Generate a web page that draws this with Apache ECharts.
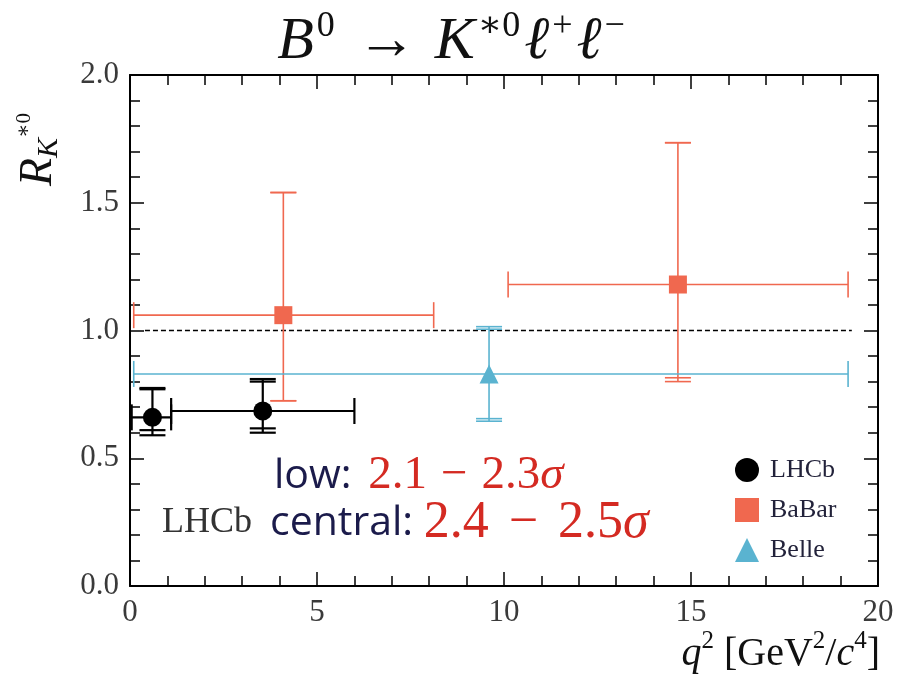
<!DOCTYPE html>
<html>
<head>
<meta charset="utf-8">
<script src="https://cdn.jsdelivr.net/npm/echarts@6/dist/echarts.min.js"></script>
<style>html,body{margin:0;padding:0;background:#fff}#c{width:906px;height:686px}</style>
</head>
<body>
<div id="c"></div>
<script>
// ---- data: [x, y, xLow, xHigh, yLowTot, yHighTot, yLowStat, yHighStat]
const lhcbPoints = [
  [0.6, 0.66, 0.045, 1.1, 0.59, 0.775, 0.61, 0.77],
  [3.55, 0.685, 1.1, 6.0, 0.60, 0.81, 0.617, 0.80]
];
const babarPoints = [
  [4.1, 1.06, 0.1, 8.12, 0.725, 1.54, 0.725, 1.54],
  [14.65, 1.18, 10.11, 19.2, 0.80, 1.735, 0.815, 1.735]
];
const bellePoints = [
  [9.6, 0.83, 0.1, 19.2, 0.645, 1.015, 0.655, 1.005]
];
const refLine = [[0.4, 1.0], [19.3, 1.0]];
const xRange = [0, 20];
const yRange = [0, 2];
const seriesNames = ['LHCb', 'BaBar', 'Belle'];

const colLHCb = '#000000', colBaBar = '#f0684f', colBelle = '#5ab3d0';
const SERIF = '"Liberation Serif", "DejaVu Serif", serif';
const SANS = '"Open Sans", "DejaVu Sans", sans-serif';

function errBar(color, lw) {
  return function (params, api) {
    const x = api.value(0), y = api.value(1);
    const c = api.coord([x, y]);
    const xl = api.coord([api.value(2), y]);
    const xh = api.coord([api.value(3), y]);
    const yl = api.coord([x, api.value(4)]);
    const yh = api.coord([x, api.value(5)]);
    const yl2 = api.coord([x, api.value(6)]);
    const yh2 = api.coord([x, api.value(7)]);
    const st = { stroke: color, lineWidth: lw };
    const capH = 13, capW = 13;
    const ln = (x1, y1, x2, y2) => ({ type: 'line', shape: { x1, y1, x2, y2 }, style: st });
    return {
      type: 'group',
      children: [
        ln(xl[0], c[1], xh[0], c[1]),
        ln(xl[0], c[1] - capH, xl[0], c[1] + capH),
        ln(xh[0], c[1] - capH, xh[0], c[1] + capH),
        ln(c[0], yl[1], c[0], yh[1]),
        ln(c[0] - capW, yl[1], c[0] + capW, yl[1]),
        ln(c[0] - capW, yh[1], c[0] + capW, yh[1]),
        ln(c[0] - capW, yl2[1], c[0] + capW, yl2[1]),
        ln(c[0] - capW, yh2[1], c[0] + capW, yh2[1])
      ]
    };
  };
}

function axisCommon() {
  return {
    type: 'value',
    axisLine: { show: true, onZero: false, lineStyle: { color: '#000', width: 2 } },
    splitLine: { show: false },
    axisTick: { show: true, inside: true, length: 14, lineStyle: { color: '#000', width: 1.5 } },
    minorTick: { show: true, splitNumber: 5, length: 10, lineStyle: { color: '#000', width: 1.5 } }
  };
}

const chart = echarts.init(document.getElementById('c'));
chart.setOption({
  animation: false,
  backgroundColor: '#fff',
  grid: { left: 130, right: 28, top: 75, bottom: 100 },
  xAxis: [
    Object.assign(axisCommon(), {
      min: xRange[0], max: xRange[1], interval: 5, position: 'bottom',
      axisLabel: { fontFamily: SERIF, fontSize: 31, color: '#3a3a3a', margin: 11 }
    }),
    Object.assign(axisCommon(), {
      min: xRange[0], max: xRange[1], interval: 5, position: 'top',
      axisLabel: { show: false }
    })
  ],
  yAxis: [
    Object.assign(axisCommon(), {
      min: yRange[0], max: yRange[1], interval: 0.5, position: 'left',
      axisLabel: { fontFamily: SERIF, fontSize: 31, color: '#3a3a3a', margin: 11,
        formatter: v => v.toFixed(1) }
    }),
    Object.assign(axisCommon(), {
      min: yRange[0], max: yRange[1], interval: 0.5, position: 'right',
      axisLabel: { show: false }
    })
  ],
  legend: {
    orient: 'vertical',
    left: 730, top: 452,
    itemWidth: 24, itemHeight: 24, itemGap: 14,
    data: [
      { name: 'LHCb', icon: 'circle' },
      { name: 'BaBar', icon: 'rect' },
      { name: 'Belle', icon: 'triangle' }
    ],
    textStyle: { fontFamily: SERIF, fontSize: 26, color: '#22223a', padding: [0, 0, 0, 6] }
  },
  series: [
    { type: 'line', data: refLine, symbol: 'none', silent: true,
      lineStyle: { color: '#000', width: 1.5, type: [5, 3] }, z: 1 },
    { type: 'custom', renderItem: errBar(colBaBar, 1.6), data: babarPoints, z: 2, silent: true },
    { type: 'custom', renderItem: errBar(colBelle, 1.6), data: bellePoints, z: 2, silent: true },
    { type: 'custom', renderItem: errBar(colLHCb, 2.2), data: lhcbPoints, z: 3, silent: true },
    { name: 'BaBar', type: 'scatter', data: babarPoints.map(p => [p[0], p[1]]),
      symbol: 'rect', symbolSize: 18, itemStyle: { color: colBaBar, opacity: 1 }, z: 5 },
    { name: 'Belle', type: 'scatter', data: bellePoints.map(p => [p[0], p[1]]),
      symbol: 'triangle', symbolSize: 19, itemStyle: { color: colBelle, opacity: 1 }, z: 5 },
    { name: 'LHCb', type: 'scatter', data: lhcbPoints.map(p => [p[0], p[1]]),
      symbol: 'circle', symbolSize: 19, itemStyle: { color: colLHCb, opacity: 1 }, z: 6 }
  ],
  graphic: [
    { type: 'text', left: 'center', top: 9,
      style: {
        text: '{i|B}{s|0}{n|→}{i|K}{s|∗0}{i|ℓ}{s|+}{i|ℓ}{s|−}',
        rich: {
          i: { fontFamily: SERIF, fontStyle: 'italic', fontSize: 60, lineHeight: 66, fill: '#111' },
          n: { fontFamily: SERIF, fontSize: 60, lineHeight: 66, fill: '#111', padding: [0, 18, 0, 18] },
          s: { fontFamily: SERIF, fontSize: 36, lineHeight: 66, verticalAlign: 'top', fill: '#111', padding: [0, 4, 0, 3] }
        }
      } },
    { type: 'text', x: 14, y: 186, rotation: Math.PI / 2,
      style: {
        text: '{i|R}{s|K}{t|∗0}',
        rich: {
          i: { fontFamily: SERIF, fontStyle: 'italic', fontSize: 46, lineHeight: 50, fill: '#111' },
          s: { fontFamily: SERIF, fontStyle: 'italic', fontSize: 30, lineHeight: 50, verticalAlign: 'bottom', fill: '#111' },
          t: { fontFamily: SERIF, fontSize: 21, lineHeight: 46, verticalAlign: 'top', fill: '#111' }
        }
      } },
    { type: 'text', right: 26, top: 629,
      style: {
        text: '{i|q}{s|2}{n| [GeV}{s|2}{n|/}{i|c}{s|4}{n|]}',
        rich: {
          i: { fontFamily: SERIF, fontStyle: 'italic', fontSize: 40, lineHeight: 50, fill: '#111' },
          n: { fontFamily: SERIF, fontSize: 40, lineHeight: 50, fill: '#111' },
          s: { fontFamily: SERIF, fontSize: 25, lineHeight: 50, verticalAlign: 'top', fill: '#111' }
        }
      } },
    { type: 'text', x: 274, y: 476,
      style: {
        verticalAlign: 'middle',
        text: '{a|low: }{b|2.1}{m|−}{b|2.3}{c|σ}',
        rich: {
          a: { fontFamily: SANS, fontSize: 41, fill: '#1b1b4b', padding: [0, 6, 0, 0] },
          b: { fontFamily: SERIF, fontSize: 47, fill: '#d42a22' },
          m: { fontFamily: SERIF, fontSize: 47, fill: '#d42a22', padding: [0, 14, 0, 14] },
          c: { fontFamily: SERIF, fontStyle: 'italic', fontSize: 47, fill: '#d42a22' }
        }
      } },
    { type: 'text', x: 162, y: 523,
      style: {
        verticalAlign: 'middle',
        text: '{l|LHCb}{a|central: }{b|2.4}{m|−}{b|2.5}{c|σ}',
        rich: {
          l: { fontFamily: SERIF, fontSize: 36, fill: '#333', padding: [0, 18, 0, 0] },
          a: { fontFamily: SANS, fontSize: 41, fill: '#1b1b4b' },
          b: { fontFamily: SERIF, fontSize: 52, fill: '#d42a22' },
          m: { fontFamily: SERIF, fontSize: 52, fill: '#d42a22', padding: [0, 20, 0, 20] },
          c: { fontFamily: SERIF, fontStyle: 'italic', fontSize: 52, fill: '#d42a22' }
        }
      } }
  ]
});
</script>
</body>
</html>
